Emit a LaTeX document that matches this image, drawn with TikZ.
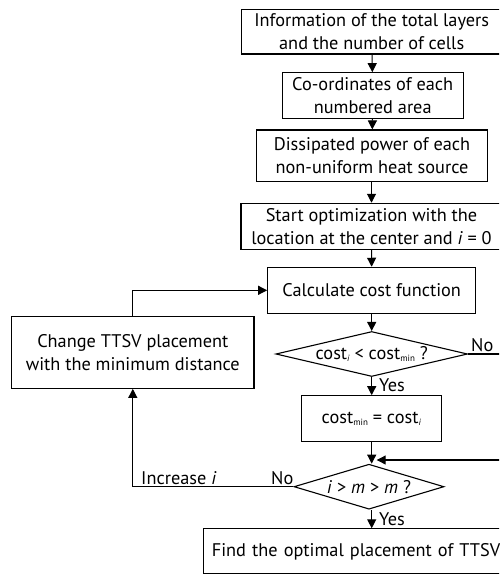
\documentclass[tikz,border=0pt]{standalone}
\usepackage{fontspec}
\setmainfont{PT Sans}
\usetikzlibrary{shapes.geometric,arrows.meta}
\tikzset{
  box/.style={draw, line width=1.1pt, inner sep=0pt, align=center, font=\fontsize{18.3}{23}\selectfont},
  dia/.style={draw, diamond, line width=1.1pt, inner sep=0pt, align=center, font=\fontsize{18.3}{23}\selectfont},
  conn/.style={line width=1.1pt, -{Triangle[length=9pt,width=9pt]}},
  line/.style={line width=1.1pt},
  lbl/.style={font=\fontsize{18.3}{23}\selectfont, inner sep=1pt}
}
\newcommand{\sbi}{\raisebox{-2pt}{\fontsize{9}{9}\selectfont\textit{i}}}
\newcommand{\sbmin}{\raisebox{-2pt}{\fontsize{9}{9}\selectfont min}}
\begin{document}
\begin{tikzpicture}[x=1pt,y=-1pt]
\useasboundingbox (0,0) rectangle (499,575);
\clip (0,0) rectangle (499,575);
\node[box, minimum width=260pt, minimum height=44.7pt] (b1) at (371.7,31.7) {Information of the total layers\\and the number of cells};
\node[box, minimum width=181.3pt, minimum height=45.6pt] (b2) at (372.7,95.5) {Co-ordinates of each\\numbered area};
\node[box, minimum width=230.6pt, minimum height=51.7pt] (b3) at (372,155.8) {Dissipated power of each\\non-uniform heat source};
\node[box, minimum width=261pt, minimum height=46pt] (b4) at (371.5,226.3) {Start optimization with the\\location at the center and \textit{i} = 0};
\node[box, minimum width=208pt, minimum height=46pt] (b5) at (371.7,290.3) {Calculate cost function};
\node[dia, aspect=4.26, minimum width=191.7pt, minimum height=45pt] (d1) at (371.7,354) {cost\sbi{} < cost\sbmin{} ?};
\node[box, minimum width=140.7pt, minimum height=46pt] (b6) at (371.4,418.7) {cost\sbmin{} = cost\sbi};
\node[dia, aspect=3.33, minimum width=150pt, minimum height=45pt] (d2) at (369,486.7) {\textit{i} > \textit{m} > \textit{m} ?};
\node[box, minimum width=242.3pt, minimum height=71.6pt] (lb) at (132.8,352.5) {Change TTSV placement\\with the minimum distance};
\node[box, anchor=north west, text width=300pt, align=left, inner xsep=8pt, minimum height=45pt] (fb) at (203.3,528.3) {Find the optimal placement of TTSV};

\coordinate (n1) at (530,354);
\coordinate (n2) at (530,460);
\coordinate (n3) at (376.7,460);
\coordinate (l1) at (132.8,486.7);
\coordinate (l2) at (132.8,290.3);

\draw[conn] (b1) -- (b2);
\draw[conn] (b2) -- (b3);
\draw[conn] (b3.south -| b4.north) -- (b4);
\draw[conn] (b4) -- (b5);
\draw[conn] (b5) -- (d1);
\draw[conn] (d1) -- (b6.north -| d1.south);
\draw[conn] (b6.south -| d1.south) -- (d1.south |- d2.north);
\draw[conn] (d1.south |- d2.south) -- (d1.south |- fb.north);
\draw[line] (d1.east) -- (n1) -- (n2);
\draw[conn] (n2) -- (n3);
\draw[conn] (d2.west) -- (l1) -- (lb.south);
\draw[conn] (lb.north) -- (l2) -- (b5.west);

\node[lbl, anchor=south west] (no1) at (470,353) {No};
\node[lbl, anchor=west] (y1) at (378,385.5) {Yes};
\node[lbl, anchor=west] (y2) at (378,519) {Yes};
\node[lbl, anchor=south west] (no2) at (270,485.5) {No};
\node[lbl, anchor=south west] (inc) at (140,485.5) {Increase \textit{i}};
\end{tikzpicture}
\end{document}
